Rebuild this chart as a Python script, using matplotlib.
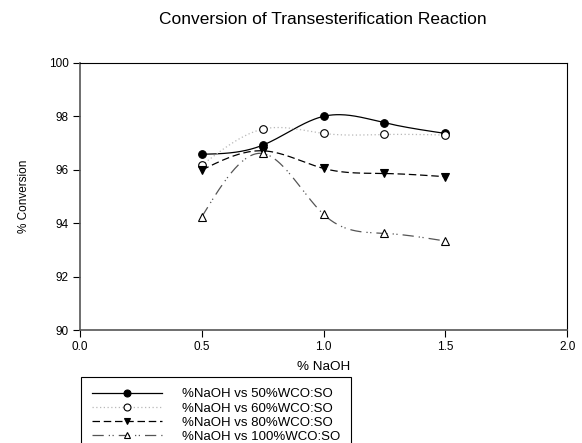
import numpy as np
import matplotlib
matplotlib.use("Agg")
import matplotlib.pyplot as plt
from matplotlib.lines import Line2D

plt.rcParams["font.family"] = ["Liberation Sans", "DejaVu Sans"]

naoh = [0.5, 0.75, 1.0, 1.25, 1.5]
conv_50 = [96.58, 96.92, 98.0, 97.76, 97.36]
conv_60 = [96.17, 97.52, 97.36, 97.32, 97.30]
conv_80 = [95.99, 96.71, 96.05, 95.86, 95.74]
conv_100 = [94.24, 96.61, 94.33, 93.62, 93.33]

labels = [
    "%NaOH vs 50%WCO:SO",
    "%NaOH vs 60%WCO:SO",
    "%NaOH vs 80%WCO:SO",
    "%NaOH vs 100%WCO:SO",
]


def spline(x, y, n=200):
    # natural cubic spline, only for the smoothed connecting curve
    x = np.asarray(x, float)
    y = np.asarray(y, float)
    k = len(x)
    h = np.diff(x)
    A = np.zeros((k, k))
    b = np.zeros(k)
    A[0, 0] = A[-1, -1] = 1
    for i in range(1, k - 1):
        A[i, i - 1] = h[i - 1]
        A[i, i] = 2 * (h[i - 1] + h[i])
        A[i, i + 1] = h[i]
        b[i] = 6 * ((y[i + 1] - y[i]) / h[i] - (y[i] - y[i - 1]) / h[i - 1])
    m = np.linalg.solve(A, b)
    xs = np.linspace(x[0], x[-1], n)
    idx = np.clip(np.searchsorted(x, xs) - 1, 0, k - 2)
    x0, x1 = x[idx], x[idx + 1]
    hh = x1 - x0
    t0, t1 = x1 - xs, xs - x0
    ys = (m[idx] * t0**3 + m[idx + 1] * t1**3) / (6 * hh) \
        + (y[idx] / hh - m[idx] * hh / 6) * t0 \
        + (y[idx + 1] / hh - m[idx + 1] * hh / 6) * t1
    return xs, ys


fig = plt.figure(figsize=(5.82, 4.43), dpi=100)
ax = fig.add_axes([0.1375, 0.255, 0.837, 0.603])

styles = [
    dict(color="black", ls="-", marker="o", mfc="black", lw=0.9),
    dict(color="#b8b8b8", ls=(0, (1, 2)), marker="o", mfc="white", lw=0.9),
    dict(color="black", ls=(0, (6, 3)), marker="v", mfc="black", lw=0.9),
    dict(color="#555555", ls=(0, (9, 4, 1, 2, 1, 4)), marker="^", mfc="white", lw=0.9),
]

handles = []
for ys, st, lab in zip([conv_50, conv_60, conv_80, conv_100], styles, labels):
    sx, sy = spline(naoh, ys)
    ax.plot(sx, sy, color=st["color"], ls=st["ls"], lw=st["lw"])
    ax.plot(naoh, ys, ls="none", marker=st["marker"], ms=5.5,
            mfc=st["mfc"], mec="black", mew=0.8)
    handles.append(Line2D([], [], color=st["color"], ls=st["ls"], lw=st["lw"],
                          marker=st["marker"], ms=5, mfc=st["mfc"],
                          mec="black", mew=0.8))

ax.set_xlim(0, 2.0)
ax.set_ylim(90, 100)
ax.set_xticks([0.0, 0.5, 1.0, 1.5, 2.0])
ax.set_xticklabels(["0.0", "0.5", "1.0", "1.5", "2.0"])
ax.set_yticks([90, 92, 94, 96, 98, 100])
ax.tick_params(direction="out", length=5, width=0.8, labelsize=8.5,
               colors="black", pad=3)
for s in ["left", "bottom"]:
    ax.spines[s].set_color("#555555")
    ax.spines[s].set_linewidth(1.2)
for s in ["top", "right"]:
    ax.spines[s].set_linewidth(0.8)

ax.set_xlabel("% NaOH", fontsize=9.7, labelpad=6)
ax.set_ylabel("% Conversion", fontsize=8.5, labelpad=14)
fig.text(322.5 / 582, 1 - 19 / 443, "Conversion of Transesterification Reaction",
         ha="center", va="center", fontsize=12.5)

leg = fig.legend(handles, labels, loc="upper left",
                 bbox_to_anchor=(81 / 582, 1 - 377 / 443),
                 fontsize=9.5, handlelength=5.3, handletextpad=1.5,
                 labelspacing=0.14, borderpad=0.85, borderaxespad=0,
                 fancybox=False, edgecolor="black", framealpha=1)
leg.get_frame().set_linewidth(0.8)

fig.savefig("out.png", dpi=100)
